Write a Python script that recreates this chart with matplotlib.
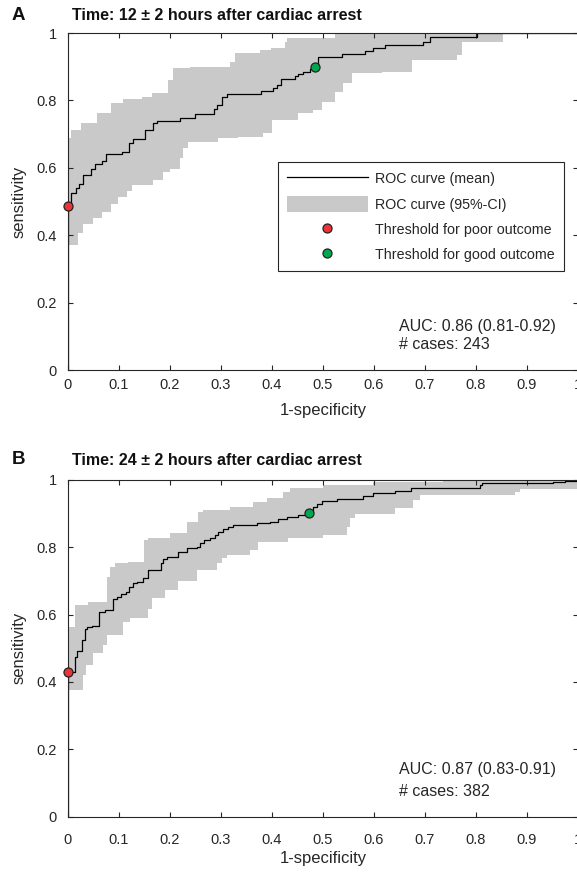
import matplotlib
matplotlib.use("Agg")
import matplotlib.pyplot as plt
from matplotlib.lines import Line2D
from matplotlib.patches import Patch

plt.rcParams['font.family'] = ['Liberation Sans', 'DejaVu Sans']

# ---- 12 h after cardiac arrest ----
fpr_12_mean = [0.0, 0.0, 0.0059, 0.0157, 0.0216, 0.0294, 0.0451, 0.0529, 0.0667, 0.0745,
               0.1059, 0.1196, 0.1280, 0.1510, 0.1660, 0.1739, 0.2196, 0.2490, 0.2863,
               0.2928, 0.3014, 0.3112, 0.3778, 0.4025, 0.4090, 0.4171, 0.4450, 0.4516,
               0.4602, 0.4745, 0.4843, 0.4908, 0.5367, 0.5824, 0.5987, 0.6216, 0.6967,
               0.7098, 0.8013, 1.0]
tpr_12_mean = [0.0, 0.487, 0.525, 0.540, 0.552, 0.579, 0.596, 0.611, 0.620, 0.641,
               0.647, 0.674, 0.686, 0.712, 0.732, 0.740, 0.749, 0.759, 0.773,
               0.786, 0.811, 0.819, 0.828, 0.836, 0.846, 0.864, 0.872, 0.878,
               0.885, 0.893, 0.900, 0.928, 0.937, 0.947, 0.955, 0.964, 0.974,
               0.989, 1.0, 1.0]
fpr_12_upper = [0.0, 0.0059, 0.0255, 0.0569, 0.0843, 0.1078, 0.1451, 0.1647, 0.1961,
                0.2059, 0.2392, 0.3176, 0.3275, 0.3765, 0.3980, 0.4255, 0.4294, 0.5235, 1.0]
tpr_12_upper = [0.688, 0.712, 0.733, 0.763, 0.792, 0.804, 0.810, 0.822, 0.861,
                0.896, 0.899, 0.914, 0.941, 0.950, 0.955, 0.973, 0.985, 1.0, 1.0]
fpr_12_lower = [0.0, 0.0196, 0.0294, 0.0490, 0.0667, 0.0843, 0.0980, 0.1157, 0.1255,
                0.1667, 0.1863, 0.2000, 0.2196, 0.2255, 0.2353, 0.2941, 0.3333, 0.3824,
                0.3994, 0.4516, 0.4810, 0.4974, 0.5235, 0.5398, 0.5563, 0.6151, 0.6739,
                0.7621, 0.7719, 0.8535, 1.0]
tpr_12_lower = [0.371, 0.407, 0.433, 0.451, 0.469, 0.493, 0.513, 0.531, 0.549,
                0.564, 0.588, 0.596, 0.629, 0.659, 0.677, 0.687, 0.692, 0.703,
                0.742, 0.762, 0.772, 0.795, 0.825, 0.851, 0.880, 0.885, 0.920,
                0.935, 0.974, 1.0, 1.0]
thr_poor_12 = (0.0, 0.487)
thr_good_12 = (0.4843, 0.900)
auc_12 = "AUC: 0.86 (0.81-0.92)"
cases_12 = "# cases: 243"

# ---- 24 h after cardiac arrest ----
fpr_24_mean = [0.0, 0.0, 0.0137, 0.0183, 0.0268, 0.0333, 0.0379, 0.0465, 0.0614, 0.0725,
               0.0889, 0.0967, 0.1033, 0.1137, 0.1202, 0.1280, 0.1347, 0.1477, 0.1575,
               0.1824, 0.1857, 0.1935, 0.2163, 0.2327, 0.2523, 0.2588, 0.2667, 0.2784,
               0.2882, 0.2947, 0.3045, 0.3143, 0.3241, 0.3699, 0.3961, 0.4124, 0.4288,
               0.4516, 0.4730, 0.4800, 0.4880, 0.4980, 0.5270, 0.5780, 0.5980, 0.6410,
               0.6720, 0.8080, 0.8110, 0.9510, 0.9740, 0.9980, 1.0]
tpr_24_mean = [0.0, 0.429, 0.475, 0.493, 0.524, 0.557, 0.563, 0.567, 0.608, 0.613,
               0.646, 0.653, 0.661, 0.668, 0.682, 0.693, 0.697, 0.709, 0.732,
               0.753, 0.765, 0.772, 0.786, 0.796, 0.799, 0.811, 0.821, 0.826,
               0.836, 0.846, 0.853, 0.859, 0.866, 0.871, 0.875, 0.882, 0.888,
               0.895, 0.902, 0.920, 0.928, 0.937, 0.942, 0.952, 0.960, 0.967,
               0.974, 0.984, 0.989, 0.992, 0.997, 1.0, 1.0]
fpr_24_upper = [0.0, 0.0137, 0.0398, 0.0758, 0.0824, 0.0922, 0.1183, 0.1490, 0.1575,
                0.2000, 0.2327, 0.2555, 0.2653, 0.3176, 0.3634, 0.3895, 0.4222, 0.4353,
                0.5006, 0.5987, 0.7359, 1.0]
tpr_24_upper = [0.564, 0.628, 0.638, 0.712, 0.742, 0.752, 0.757, 0.821, 0.826,
                0.841, 0.875, 0.905, 0.910, 0.920, 0.935, 0.945, 0.964, 0.974,
                0.984, 0.994, 1.0, 1.0]
fpr_24_lower = [0.0, 0.0288, 0.0353, 0.0484, 0.0680, 0.0759, 0.1073, 0.1216, 0.1575,
                0.1641, 0.1902, 0.2163, 0.2523, 0.2915, 0.3013, 0.3111, 0.3569, 0.3731,
                0.4314, 0.5000, 0.5464, 0.5530, 0.5627, 0.6410, 0.6770, 0.6900, 0.8760,
                0.8860, 1.0]
tpr_24_lower = [0.376, 0.420, 0.450, 0.485, 0.510, 0.539, 0.579, 0.589, 0.615,
                0.648, 0.673, 0.699, 0.732, 0.753, 0.768, 0.777, 0.792, 0.816,
                0.826, 0.836, 0.859, 0.885, 0.898, 0.915, 0.940, 0.955, 0.964,
                0.972, 0.972]
thr_poor_24 = (0.0, 0.429)
thr_good_24 = (0.4730, 0.902)
auc_24 = "AUC: 0.87 (0.83-0.91)"
cases_24 = "# cases: 382"

xticks = [0, 0.1, 0.2, 0.3, 0.4, 0.5, 0.6, 0.7, 0.8, 0.9, 1]
xticklabels = ['0', '0.1', '0.2', '0.3', '0.4', '0.5', '0.6', '0.7', '0.8', '0.9', '1']
yticks = [0, 0.2, 0.4, 0.6, 0.8, 1]
yticklabels = ['0', '0.2', '0.4', '0.6', '0.8', '1']

AX_COL = '#262626'
BAND_COL = '#c8c9c8'
RED = '#ee3338'
GREEN = '#00a84f'

W, H = 577, 873


def staircase(xs, ys):
    """Vertices of a post-step curve: horizontal run, then vertical jump."""
    px, py = [xs[0]], [ys[0]]
    for i in range(1, len(xs)):
        px += [xs[i], xs[i]]
        py += [ys[i - 1], ys[i]]
    return px, py


def panel(ax, fm, tm, fu, tu, fl, tl, poor, good, auc, cases, auc_y, cases_y,
          xpad, xlab_y):
    ux, uy = staircase(fu, tu)
    lx, ly = staircase(fl, tl)
    ax.fill(ux + lx[::-1], uy + ly[::-1], color=BAND_COL, lw=0, zorder=1)
    ax.step(fm, tm, where='post', color='black', lw=0.9, zorder=2)
    ax.plot([poor[0]], [poor[1]], 'o', ms=6.5, mfc=RED, mec='#222222', mew=0.9,
            zorder=5, clip_on=False)
    ax.plot([good[0]], [good[1]], 'o', ms=6.5, mfc=GREEN, mec='#222222', mew=0.9,
            zorder=5, clip_on=False)
    ax.set_xlim(0, 1)
    ax.set_ylim(0, 1)
    ax.set_xticks(xticks)
    ax.set_xticklabels(xticklabels)
    ax.set_yticks(yticks)
    ax.set_yticklabels(yticklabels)
    for s in ax.spines.values():
        s.set_color(AX_COL)
        s.set_linewidth(0.8)
    ax.tick_params(direction='in', length=3.6, width=0.8, color=AX_COL,
                   labelcolor=AX_COL, labelsize=10.5, top=True, right=True)
    ax.tick_params(axis='x', pad=xpad)
    ax.tick_params(axis='y', pad=7.9)
    ax.set_xlabel('1-specificity', fontsize=12, color=AX_COL)
    ax.set_ylabel('sensitivity', fontsize=12, color=AX_COL)
    ax.xaxis.set_label_coords(0.5, xlab_y)
    ax.xaxis.label.set_va('center')
    ax.yaxis.set_label_coords(-0.096, 0.5)
    ax.yaxis.label.set_va('center')
    ax.text(0.649, auc_y, auc, fontsize=11.5, color=AX_COL, va='center', ha='left',
            transform=ax.transAxes)
    ax.text(0.649, cases_y, cases, fontsize=11.5, color=AX_COL, va='center', ha='left',
            transform=ax.transAxes)


fig = plt.figure(figsize=(W / 100, H / 100), dpi=100)

ax1 = fig.add_axes([68 / W, (H - 370) / H, 510 / W, 337 / H])
ax2 = fig.add_axes([68 / W, (H - 816.7) / H, 510 / W, 337 / H])

panel(ax1, fpr_12_mean, tpr_12_mean, fpr_12_upper, tpr_12_upper, fpr_12_lower,
      tpr_12_lower, thr_poor_12, thr_good_12, auc_12, cases_12, 0.128, 0.076,
      5.8, -0.119)
panel(ax2, fpr_24_mean, tpr_24_mean, fpr_24_upper, tpr_24_upper, fpr_24_lower,
      tpr_24_lower, thr_poor_24, thr_good_24, auc_24, cases_24, 0.1415, 0.076,
      11.5, -0.1255)

handles = [
    Line2D([], [], color='black', lw=0.9),
    Patch(facecolor=BAND_COL, edgecolor='none'),
    Line2D([], [], ls='none', marker='o', ms=6.5, mfc=RED, mec='#222222', mew=0.9),
    Line2D([], [], ls='none', marker='o', ms=6.5, mfc=GREEN, mec='#222222', mew=0.9),
]
labels = ['ROC curve (mean)', 'ROC curve (95%-CI)', 'Threshold for poor outcome',
          'Threshold for good outcome']
leg = ax1.legend(handles, labels, loc='upper left', bbox_to_anchor=(0.412, 0.617),
                 borderaxespad=0, fontsize=10.3, frameon=True, fancybox=False,
                 framealpha=1, edgecolor=AX_COL, handlelength=5.7, handleheight=1.3,
                 handletextpad=0.5, labelspacing=0.68, borderpad=0.6)
leg.get_frame().set_linewidth(0.8)
for t in leg.get_texts():
    t.set_color(AX_COL)

fig.text(12 / W, 1 - 15 / H, 'A', fontsize=13.5, fontweight='bold', color='#111111',
         ha='left', va='center')
fig.text(72 / W, 1 - 15 / H, 'Time: 12 \u00b1 2 hours after cardiac arrest', fontsize=11.5,
         fontweight='bold', color='#111111', ha='left', va='center')
fig.text(12 / W, 1 - 460 / H, 'B', fontsize=13.5, fontweight='bold', color='#111111',
         ha='left', va='center')
fig.text(72 / W, 1 - 460.5 / H, 'Time: 24 \u00b1 2 hours after cardiac arrest', fontsize=11.5,
         fontweight='bold', color='#111111', ha='left', va='center')

fig.savefig('out.png', dpi=100)
